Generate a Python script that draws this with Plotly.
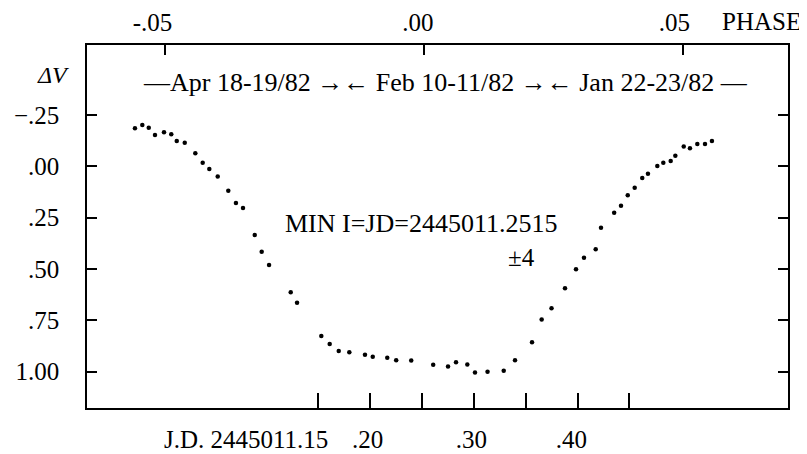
import plotly.graph_objects as go

# Julian date offsets (J.D. 2445011 + x) and magnitude differences
jd = [-0.0268, -0.0197, -0.0135, -0.0075, 0.0012, 0.0082, 0.0135, 0.0212,
      0.0314, 0.0385, 0.0449, 0.0530, 0.0632, 0.0706, 0.0774, 0.0887,
      0.0954, 0.1025, 0.1234, 0.1295, 0.1529, 0.1610, 0.1697, 0.1799,
      0.1950, 0.2025, 0.2165, 0.2251, 0.2396, 0.2608, 0.2751, 0.2828,
      0.2937, 0.3011, 0.3132, 0.3288, 0.3397, 0.3561, 0.3654, 0.3749,
      0.3879, 0.3985, 0.4062, 0.4175, 0.4226, 0.4353, 0.4419, 0.4484,
      0.4551, 0.4624, 0.4679, 0.4769, 0.4827, 0.4898, 0.4943, 0.5024,
      0.5084, 0.5155, 0.5229, 0.5296]
dv = [-0.185, -0.201, -0.188, -0.153, -0.166, -0.156, -0.123, -0.115,
      -0.064, -0.018, 0.013, 0.050, 0.119, 0.178, 0.203, 0.334,
      0.416, 0.480, 0.613, 0.664, 0.826, 0.865, 0.899, 0.905,
      0.918, 0.927, 0.932, 0.944, 0.946, 0.966, 0.975, 0.954,
      0.965, 1.004, 1.000, 0.995, 0.944, 0.856, 0.746, 0.691,
      0.594, 0.501, 0.445, 0.404, 0.299, 0.226, 0.192, 0.141,
      0.104, 0.057, 0.036, -0.002, -0.018, -0.026, -0.052, -0.096,
      -0.088, -0.109, -0.109, -0.123]

y_ticks = [-0.25, 0.0, 0.25, 0.50, 0.75, 1.00]
y_ticktext = ["\u2212.25", ".00", ".25", ".50", ".75", "1.00"]
jd_ticks = [0.15, 0.20, 0.25, 0.30, 0.35, 0.40, 0.45]
jd_ticktext = ["", ".20\u2009", "", ".30\u2009", "", ".40\u2002", ""]
phase_ticks = [-0.05, 0.0, 0.05]
phase_ticktext = ["-.05\u2003", ".00\u2002", ".05\u2002\u2009"]

FONT = "Liberation Serif"
FS = 25

fig = go.Figure()
fig.add_trace(go.Scatter(x=jd, y=dv, mode="markers",
                         marker=dict(color="black", size=4.5),
                         showlegend=False, hoverinfo="skip"))
# invisible trace to activate the top phase axis
fig.add_trace(go.Scatter(x=phase_ticks, y=[0, 0, 0], xaxis="x2", mode="markers",
                         marker=dict(opacity=0), showlegend=False, hoverinfo="skip"))

axis_common = dict(showgrid=False, zeroline=False, showline=True,
                   linecolor="black", linewidth=1.5, ticks="inside",
                   tickcolor="black", tickwidth=1.5, automargin=False,
                   tickfont=dict(family=FONT, size=FS, color="black"))

fig.update_layout(
    width=799, height=446,
    margin=dict(l=79, r=19, t=37, b=46),
    paper_bgcolor="white", plot_bgcolor="white",
    xaxis=dict(range=[-0.07305, 0.60294], tickvals=jd_ticks, ticktext=jd_ticktext,
               ticklen=15, mirror=True, ticklabelstandoff=8, **axis_common),
    xaxis2=dict(range=[-0.06506, 0.07027], overlaying="x", side="top",
                tickvals=phase_ticks, ticktext=phase_ticktext, ticklen=10,
                ticklabelstandoff=2, **axis_common),
    yaxis=dict(range=[1.1767, -0.5908], tickvals=y_ticks, ticktext=y_ticktext,
               ticklen=10, mirror="ticks", ticklabelstandoff=21, **axis_common),
)

def ann(text, x, y, xanchor="center", size=FS, italic=False, xref="x", yref="y"):
    fig.add_annotation(x=x, y=y, xref=xref, yref=yref, text=text, showarrow=False,
                       xanchor=xanchor, yanchor="middle",
                       font=dict(family=FONT, size=size, color="black",
                                 style="italic" if italic else "normal"))

ann("\u2014Apr 18-19/82 \u2192\u2190 Feb 10-11/82 \u2192\u2190 Jan 22-23/82 \u2014",
    0.2731, -0.406, size=26)
ann("\u0394V", -0.0485, -0.445, italic=True, size=24, xref="paper")
ann("MIN I=JD=2445011.2515", 0.249, 0.276, size=26)
ann("\u00b14", 0.346, 0.446, size=25)
ann("PHASE", 0.5769, 1.0634, size=25, yref="paper")
ann("J.D. 2445011.15", 0.1613, -0.0854, xanchor="right", size=FS, yref="paper")

fig.write_html("out.html")
